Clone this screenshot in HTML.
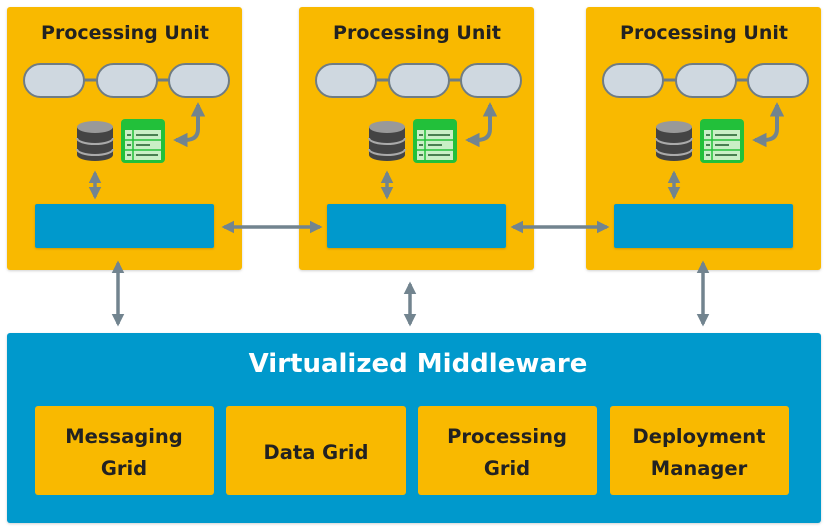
<!DOCTYPE html>
<html><head><meta charset="utf-8"><style>
html,body{margin:0;padding:0;background:#fff;}
svg{display:block;}
text{font-family:"DejaVu Sans","Liberation Sans",sans-serif;font-weight:bold;}
</style></head><body>
<svg width="828" height="531" viewBox="0 0 828 531" xmlns="http://www.w3.org/2000/svg">
<defs>
<filter id="sh" x="-5%" y="-5%" width="110%" height="110%"><feDropShadow dx="0" dy="1" stdDeviation="1.2" flood-color="#000" flood-opacity="0.18"/></filter>
<marker id="ah" viewBox="0 0 10 10" refX="8" refY="5" markerWidth="3.6" markerHeight="3.6" orient="auto-start-reverse"><path d="M0,0 L10,5 L0,10 z" fill="#72848f"/></marker>
<g id="unit">
  <rect x="0" y="0" width="235" height="263" rx="3" fill="#f9b900" filter="url(#sh)"/>
  <text x="118" y="32" font-size="19" text-anchor="middle" fill="#222">Processing Unit</text>
  <line x1="76" y1="73" x2="90" y2="73" stroke="#6f7c84" stroke-width="3"/>
  <line x1="149" y1="73" x2="162" y2="73" stroke="#6f7c84" stroke-width="3"/>
  <rect x="17" y="57" width="60" height="33" rx="16.5" fill="#cfd8e0" stroke="#6f7c84" stroke-width="2"/>
  <rect x="90" y="57" width="60" height="33" rx="16.5" fill="#cfd8e0" stroke="#6f7c84" stroke-width="2"/>
  <rect x="162" y="57" width="60" height="33" rx="16.5" fill="#cfd8e0" stroke="#6f7c84" stroke-width="2"/>
  <path d="M70,120 v28 a18,6 0 0 0 36,0 v-28 z" fill="#444"/>
  <ellipse cx="88" cy="120" rx="18" ry="6" fill="#999"/>
  <path d="M70,131 a18,6 0 0 0 36,0 M70,142 a18,6 0 0 0 36,0" stroke="#aaa" stroke-width="2" fill="none"/>
  <rect x="114" y="112" width="44" height="44" rx="4" fill="#22c03a"/>
  <rect x="118" y="123" width="36" height="30" fill="#c9efc6"/>
  <path d="M118,133 h36 M118,143 h36 M126,123 v30" stroke="#22c03a" stroke-width="1.5"/>
  <path d="M120,128 h4 M129,128 h22 M120,138 h4 M129,138 h14 M120,148 h4 M129,148 h22" stroke="#1f5a2a" stroke-width="1.6"/>
  <path d="M191,98 V122 Q191,133 178,133 H169" stroke="#72848f" stroke-width="4" fill="none" marker-start="url(#ah)" marker-end="url(#ah)"/>
  <line x1="88" y1="166" x2="88" y2="190" stroke="#72848f" stroke-width="3.5" marker-start="url(#ah)" marker-end="url(#ah)"/>
  <rect x="28" y="197" width="179" height="44" rx="2" fill="#0099cc" filter="url(#sh)"/>
</g>
</defs>
<use href="#unit" x="7" y="7"/>
<use href="#unit" x="299" y="7"/>
<use href="#unit" x="586" y="7"/>
<line x1="224" y1="227" x2="320" y2="227" stroke="#72848f" stroke-width="3.5" marker-start="url(#ah)" marker-end="url(#ah)"/>
<line x1="513" y1="227" x2="607" y2="227" stroke="#72848f" stroke-width="3.5" marker-start="url(#ah)" marker-end="url(#ah)"/>
<line x1="118" y1="263" x2="118" y2="324" stroke="#72848f" stroke-width="3.5" marker-start="url(#ah)" marker-end="url(#ah)"/>
<line x1="410" y1="284" x2="410" y2="324" stroke="#72848f" stroke-width="3.5" marker-start="url(#ah)" marker-end="url(#ah)"/>
<line x1="703" y1="263" x2="703" y2="324" stroke="#72848f" stroke-width="3.5" marker-start="url(#ah)" marker-end="url(#ah)"/>
<rect x="7" y="333" width="814" height="190" rx="3" fill="#0099cc" filter="url(#sh)"/>
<text x="418" y="372" font-size="26" text-anchor="middle" fill="#fff">Virtualized Middleware</text>
<g font-size="19.5" fill="#222" text-anchor="middle">
<rect x="35" y="406" width="179" height="89" rx="3" fill="#f9b900"/>
<text x="124" y="443">Messaging</text><text x="124" y="475">Grid</text>
<rect x="226" y="406" width="180" height="89" rx="3" fill="#f9b900"/>
<text x="316" y="459">Data Grid</text>
<rect x="418" y="406" width="179" height="89" rx="3" fill="#f9b900"/>
<text x="507" y="443">Processing</text><text x="507" y="475">Grid</text>
<rect x="610" y="406" width="179" height="89" rx="3" fill="#f9b900"/>
<text x="699" y="443">Deployment</text><text x="699" y="475">Manager</text>
</g>
</svg>
</body></html>
